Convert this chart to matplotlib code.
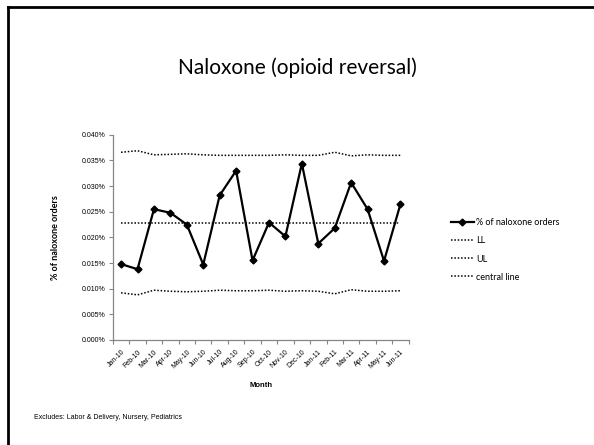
import numpy as np
import matplotlib.pyplot as plt
from matplotlib.lines import Line2D
from matplotlib.ticker import FuncFormatter, MultipleLocator

# monthly data, values in percent
months = ["Jan-10", "Feb-10", "Mar-10", "Apr-10", "May-10", "Jun-10",
          "Jul-10", "Aug-10", "Sep-10", "Oct-10", "Nov-10", "Dec-10",
          "Jan-11", "Feb-11", "Mar-11", "Apr-11", "May-11", "Jun-11"]
naloxone = [0.0148, 0.0138, 0.0255, 0.0248, 0.0225, 0.0147,
            0.0282, 0.0330, 0.0155, 0.0229, 0.0202, 0.0344,
            0.0188, 0.0218, 0.0307, 0.0255, 0.0154, 0.0265]
ll = [0.0092, 0.0088, 0.0097, 0.0095, 0.0094, 0.0095,
      0.0097, 0.0096, 0.0096, 0.0097, 0.0095, 0.0096,
      0.0095, 0.0090, 0.0098, 0.0095, 0.0095, 0.0096]
ul = [0.0366, 0.0369, 0.0361, 0.0362, 0.0363, 0.0361,
      0.0360, 0.0360, 0.0360, 0.0360, 0.0361, 0.0360,
      0.0360, 0.0366, 0.0359, 0.0361, 0.0360, 0.0360]
central = [0.0228] * len(months)

fig = plt.figure(figsize=(5.94, 4.45), dpi=100)
ax = fig.add_axes([0.190, 0.236, 0.498, 0.461])

x = np.arange(len(months))
dot = (0, (1, 1.2))
ax.plot(x, naloxone, color="black", lw=1.6, marker="D", ms=3.5,
        label="% of naloxone orders")
ax.plot(x, ll, color="black", lw=1.1, ls=dot, label="LL")
ax.plot(x, ul, color="black", lw=1.1, ls=dot, label="UL")
ax.plot(x, central, color="black", lw=1.1, ls=dot, label="central line")

ax.set_xlim(-0.5, len(months) - 0.5)
ax.set_ylim(0, 0.040)
ax.yaxis.set_major_locator(MultipleLocator(0.005))
ax.yaxis.set_major_formatter(FuncFormatter(lambda v, p: f"{v:.3f}%"))
ax.set_xticks(x)
ax.set_xticklabels(months, rotation=45, ha="right", rotation_mode="anchor",
                   fontsize=5, family="Liberation Sans")
ax.set_xticks(np.arange(-0.5, len(months)), minor=True)
ax.tick_params(axis="x", which="major", length=0, pad=6)
ax.tick_params(axis="x", which="minor", length=3, color="#868686", width=0.8)
ax.tick_params(axis="y", length=3, color="#868686", width=0.8, labelsize=5, pad=2)
for lab in ax.get_yticklabels():
    lab.set_family("Liberation Sans")

for side in ["top", "right"]:
    ax.spines[side].set_visible(False)
for side in ["left", "bottom"]:
    ax.spines[side].set_color("#868686")
    ax.spines[side].set_linewidth(0.9)

ax.set_xlabel("Month", fontsize=5.5, fontweight="bold", family="Liberation Sans",
              labelpad=9)
ax.set_ylabel("% of naloxone orders", fontsize=6.5, fontweight="bold",
              family="Lato", labelpad=16)

ax.legend(loc="upper left", bbox_to_anchor=(1.13, 0.61), frameon=False,
          prop={"family": "Lato", "size": 6.5}, handlelength=2.6,
          handletextpad=0.2, labelspacing=1.0, borderaxespad=0)

fig.text(0.5, 0.847, "Naloxone (opioid reversal)", ha="center", va="center",
         fontsize=15, family="Lato")
fig.text(0.057, 0.062, "Excludes: Labor & Delivery, Nursery, Pediatrics",
         fontsize=5, family="Liberation Sans", va="center")

# slide frame (left and top edges)
fig.add_artist(Line2D([0.013, 0.013], [0, 0.985], color="black", lw=2,
                      transform=fig.transFigure))
fig.add_artist(Line2D([0.013, 1], [0.985, 0.985], color="black", lw=2,
                      transform=fig.transFigure))

fig.savefig("out.png", dpi=100)
